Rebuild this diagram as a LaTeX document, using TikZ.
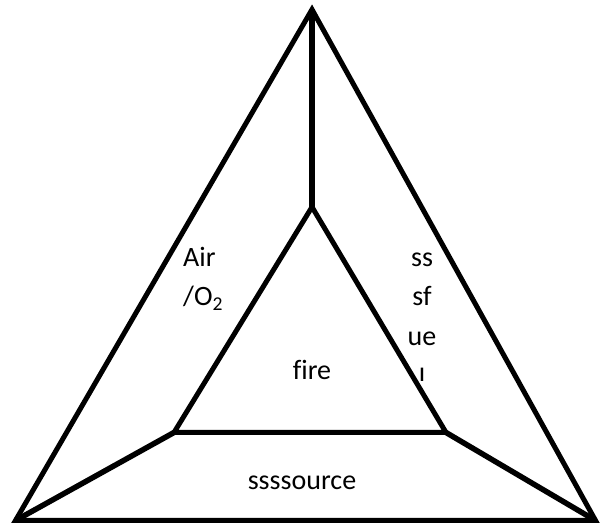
\documentclass[tikz,border=0pt]{standalone}
\usepackage{fontspec}
\setmainfont[Ligatures=NoCommon]{Carlito}
\usetikzlibrary{positioning}

\begin{document}
\begin{tikzpicture}[
  x=1pt,y=1pt,
  font=\fontsize{28}{34}\selectfont,
  edge/.style={line width=5pt,line join=miter,black},
  spoke/.style={line width=5.5pt,black},
  lbl/.style={anchor=base,inner sep=0pt,text=black}
]
  \useasboundingbox (0,0) rectangle (600,525);

  % Outer triangle
  \coordinate (top) at (312,515.5);
  \coordinate (bl) at (15.5,4.5);
  \coordinate (br) at (595.5,4.5);
  \draw[edge] (top) -- (bl) -- (br) -- cycle;

  % Inner triangle
  \coordinate (itop) at (312,318);
  \coordinate (ibl) at (174,92.5);
  \coordinate (ibr) at (446,92.5);
  \draw[edge] (itop) -- (ibl) -- (ibr) -- cycle;

  % Spokes
  \draw[spoke] (top) -- (itop);
  \draw[spoke] (bl) -- (ibl);
  \draw[spoke] (br) -- (ibr);

  % Labels
  \node[lbl,anchor=base west] (air) at (183,258) {Air};
  \node[lbl,anchor=base west] (oxy) at (183,219) {/O\textsubscript{2}};
  \node[lbl] (f1) at (422,258) {ss};
  \node[lbl] (f2) at (422,219) {sf};
  \node[lbl] (f3) at (422,179) {ue};
  \node[lbl] (f4) at (422,143) {ı};
  \node[lbl] (fire) at (312,145) {fire};
  \node[lbl] (heat) at (302,35) {ssssource};
\end{tikzpicture}
\end{document}
